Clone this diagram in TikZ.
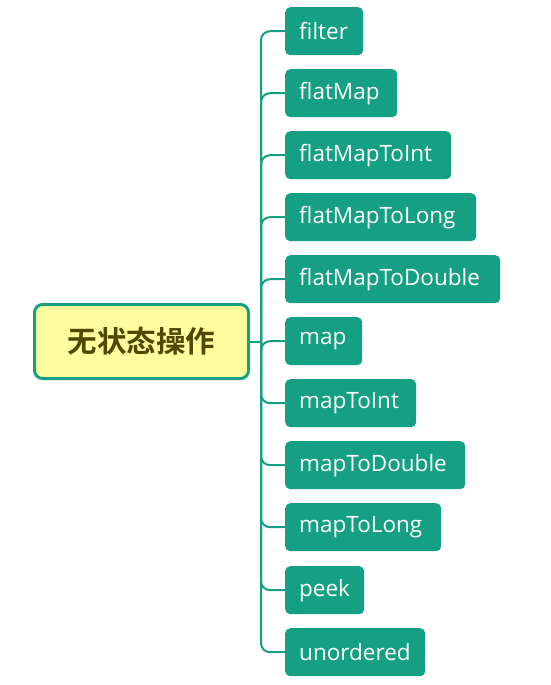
\documentclass[tikz,border=0pt]{standalone}
\usepackage{fontspec}
\setmainfont{Open Sans}
\newfontfamily\cjk{Noto Sans CJK SC Bold}
\definecolor{teal1}{HTML}{15A084}
\definecolor{ylw}{HTML}{FFFFA0}
\definecolor{olive1}{HTML}{4D4A00}
\begin{document}
\begin{tikzpicture}[x=1pt,y=-1pt,
  leaf/.style={draw=none,fill=teal1,rounded corners=5pt,anchor=north west,
    minimum height=48pt,inner xsep=14pt,inner ysep=0pt,align=left,
    text=white,font=\fontsize{22.5}{26}\selectfont},
  ctrbox/.style={draw=teal1,line width=3pt,fill=ylw,rounded corners=8pt,
    minimum width=214pt,minimum height=74pt,text=olive1,
    font=\cjk\fontsize{29.5}{34}\selectfont},
  conn/.style={draw=teal1,line width=2pt,rounded corners=9pt}]
\useasboundingbox (0,0) rectangle (550,685);
\node[ctrbox] (ctr) at (141.5,341.5) {无状态操作};
\coordinate (tr) at (261,341.5);
\foreach \n/\t/\y/\w in {a/filter/7/78, b/flatMap/69/112, c/flatMapToInt/131/166,
  d/flatMapToLong/193/191, e/flatMapToDouble/255/215, f/map/317/77,
  g/mapToInt/379/131, h/mapToDouble/441/180, i/mapToLong/503/156,
  j/peek/566/79, k/unordered/628/140}{
  \node[leaf,text width=\w pt-28pt] (\n) at (285,\y) {\t};
  \draw[conn] (tr) |- (\n.west);
}
\draw[conn] (ctr.east) -- (tr);
\end{tikzpicture}
\end{document}
